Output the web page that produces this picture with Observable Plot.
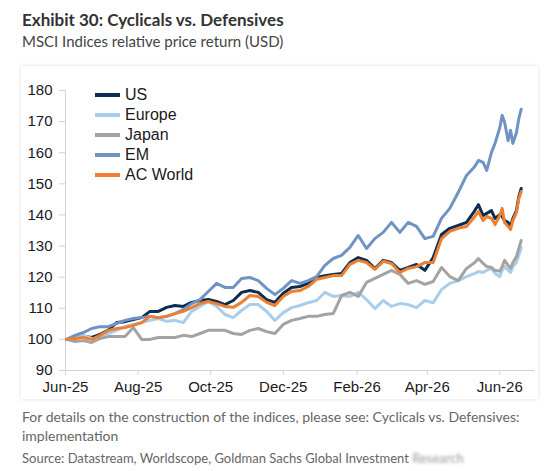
<!DOCTYPE html>
<html>
<head>
<meta charset="utf-8">
<script src="https://cdn.jsdelivr.net/npm/d3@7"></script>
<script src="https://cdn.jsdelivr.net/npm/@observablehq/plot@0.6"></script>
<style>
  html, body { margin: 0; padding: 0; background: #fff; }
  body { width: 545px; height: 471px; position: relative; overflow: hidden; font-family: Lato, "Open Sans", sans-serif; }
  .title { position: absolute; left: 22px; top: 9px; font-size: 17px; font-weight: 700; color: #333; white-space: nowrap; }
  .subtitle { position: absolute; left: 22px; top: 32px; font-size: 15px; color: #444; white-space: nowrap; }
  .card { position: absolute; left: 21px; top: 66px; width: 517px; height: 333px; background: #fff;
          box-shadow: 0 0 4px rgba(0,0,0,0.14); }
  .card svg { position: absolute; left: 0; top: 0; }
  .legend { position: absolute; left: 74px; top: 19px; font-family: Arial, "Liberation Sans", sans-serif; font-size: 16px; color: #1a1a1a; }
  .legend .row { display: flex; align-items: center; height: 20px; }
  .legend .sw { width: 25px; height: 4px; margin-right: 5px; }
  .note { position: absolute; left: 22px; top: 407px; width: 520px; font-size: 14px; line-height: 19px; color: #666; }
  .source { position: absolute; left: 22px; top: 450px; font-size: 13px; color: #666; white-space: nowrap; }
  .source .fade { filter: blur(1.6px); color: #999; }
</style>
</head>
<body>
<div class="title">Exhibit 30: Cyclicals vs. Defensives</div>
<div class="subtitle">MSCI Indices relative price return (USD)</div>
<div class="card" id="card"></div>
<div class="note">For details on the construction of the indices, please see: Cyclicals vs. Defensives: implementation</div>
<div class="source">Source: Datastream, Worldscope, Goldman Sachs Global Investment <span class="fade">Research</span></div>
<script>
// Observation dates (weekly, then denser through June 2026)
const dates = [
  "2025-06-02","2025-06-09","2025-06-16","2025-06-23","2025-06-30","2025-07-07","2025-07-14","2025-07-21",
  "2025-07-28","2025-08-04","2025-08-11","2025-08-18","2025-08-25","2025-09-01","2025-09-08","2025-09-15",
  "2025-09-22","2025-09-29","2025-10-06","2025-10-13","2025-10-20","2025-10-27","2025-11-03","2025-11-10",
  "2025-11-17","2025-11-24","2025-12-01","2025-12-08","2025-12-15","2025-12-22","2025-12-29","2026-01-05",
  "2026-01-12","2026-01-19","2026-01-26","2026-02-02","2026-02-09","2026-02-16","2026-02-23","2026-03-02",
  "2026-03-09","2026-03-16","2026-03-23","2026-03-30","2026-04-06","2026-04-13","2026-04-20","2026-04-27",
  "2026-05-04","2026-05-11","2026-05-14","2026-05-18","2026-05-21","2026-05-25","2026-05-28","2026-06-01",
  "2026-06-03","2026-06-05","2026-06-08","2026-06-10","2026-06-12","2026-06-15","2026-06-17","2026-06-19"
];

// Cyclicals vs. defensives relative price index (start = 100)
const us = [
  100.0,100.5,101.0,100.6,101.6,103.0,105.4,105.7,106.4,107.0,109.0,109.0,110.3,110.9,110.6,111.9,
  112.5,112.8,112.2,111.2,112.5,115.1,115.7,115.1,112.8,111.9,114.8,116.7,117.0,118.0,119.9,120.5,
  120.9,121.2,124.7,126.3,125.4,122.8,125.4,124.7,122.2,123.1,124.1,122.2,126.3,133.7,135.7,136.6,
  137.6,141.4,143.3,139.8,140.5,141.4,138.9,140.1,139.5,138.2,137.6,136.3,138.9,141.4,145.9,148.5
];
const europe = [
  100.0,100.6,101.3,100.3,100.3,101.9,102.9,104.1,104.8,105.4,106.1,106.7,105.8,106.1,105.4,109.0,
  110.6,112.2,110.6,108.0,107.0,109.3,111.2,111.2,109.0,106.1,108.6,110.2,110.9,111.8,112.5,115.1,
  113.8,114.1,113.8,115.1,112.8,109.9,112.5,110.6,111.5,111.2,110.2,112.5,111.8,116.0,118.0,118.9,
  120.2,121.2,121.8,121.5,122.2,122.8,121.2,120.2,122.2,123.4,122.2,121.5,123.4,124.7,127.0,129.5
];
const japan = [
  100.0,99.3,99.6,99.0,100.3,100.9,100.9,100.9,103.8,100.0,100.0,100.6,100.6,100.6,101.3,100.9,
  101.9,102.9,102.9,102.9,101.9,101.6,102.9,103.5,102.5,101.9,104.8,106.1,106.7,107.4,107.4,108.0,
  108.3,114.1,115.1,113.8,118.3,119.6,120.9,122.2,120.9,118.0,118.9,117.7,118.6,123.1,120.2,118.9,
  122.8,124.7,126.0,124.4,123.4,123.1,122.2,121.9,123.4,125.4,123.8,122.8,124.7,126.6,129.2,131.8
];
const em = [
  100.0,101.3,102.2,103.5,104.1,104.1,105.1,106.1,106.7,107.0,107.4,107.0,107.4,108.3,109.6,111.5,
  112.8,115.4,118.0,116.7,116.7,119.6,119.9,118.9,116.4,114.4,116.4,118.9,118.0,118.9,120.2,123.8,
  126.0,127.0,129.6,133.4,129.2,132.4,134.4,137.6,134.4,137.6,136.3,132.4,133.1,138.9,142.1,147.2,
  152.7,155.6,157.5,156.9,154.3,160.1,163.0,168.1,172.0,169.8,163.9,167.2,163.0,166.5,171.0,174.0
];
const acWorld = [
  100.0,100.3,100.6,100.0,101.3,102.9,103.5,103.8,104.5,105.4,107.4,107.0,107.4,108.3,109.0,110.2,
  111.5,112.2,111.5,110.6,110.3,111.9,114.1,113.8,111.9,110.9,113.8,115.4,115.7,117.0,119.3,119.9,
  120.5,120.5,124.1,125.4,124.7,122.5,125.1,124.4,121.5,122.8,123.4,124.7,124.7,132.4,134.7,135.7,
  136.3,139.5,141.1,138.2,139.5,138.9,136.9,139.8,142.1,137.6,136.3,135.3,138.2,140.8,145.3,147.5
];

const seriesNames = ["US", "Europe", "Japan", "EM", "AC World"];
const seriesColors = ["#0d2c4f", "#a9cdea", "#a3a3a3", "#6f93c3", "#ec7f31"];
const seriesValues = [us, europe, japan, em, acWorld];

const yTicks = [90, 100, 110, 120, 130, 140, 150, 160, 170, 180];
const tickDates = ["2025-06-01","2025-08-01","2025-10-01","2025-12-01","2026-02-01","2026-04-01","2026-06-01"];
const xDomain = ["2025-06-01", "2026-07-01"];

const rows = seriesNames.flatMap((name, i) =>
  dates.map((d, j) => ({date: new Date(d), value: seriesValues[i][j], series: name}))
);

const axisGrey = "#d3d3d3";
const chart = Plot.plot({
  width: 517,
  height: 333,
  marginLeft: 44,
  marginRight: 3,
  marginTop: 24,
  marginBottom: 29,
  style: {fontFamily: "Arial, 'Liberation Sans', sans-serif", fontSize: "15px", color: "#1a1a1a", background: "transparent"},
  x: {type: "utc", domain: xDomain.map(d => new Date(d))},
  y: {domain: [yTicks[0], yTicks[yTicks.length - 1]]},
  color: {domain: seriesNames, range: seriesColors},
  marks: [
    Plot.ruleY([yTicks[0]], {stroke: axisGrey}),
    Plot.ruleX([new Date(xDomain[0])], {stroke: axisGrey}),
    Plot.axisY({ticks: yTicks, tickSize: 6, tickPadding: 7, stroke: axisGrey, fill: "#1a1a1a", label: null}),
    Plot.axisX({ticks: tickDates.map(d => new Date(d)), tickFormat: d3.utcFormat("%b-%y"),
                tickSize: 5, tickPadding: 6, stroke: axisGrey, fill: "#1a1a1a", label: null}),
    Plot.line(rows, {x: "date", y: "value", z: "series", stroke: "series", strokeWidth: 3,
                     strokeLinejoin: "round", strokeLinecap: "round"})
  ]
});

const card = document.getElementById("card");
card.appendChild(chart);

// Legend, top-left inside the plot area
const legend = document.createElement("div");
legend.className = "legend";
seriesNames.forEach((name, i) => {
  const row = document.createElement("div");
  row.className = "row";
  const sw = document.createElement("span");
  sw.className = "sw";
  sw.style.background = seriesColors[i];
  const label = document.createElement("span");
  label.textContent = name;
  row.append(sw, label);
  legend.appendChild(row);
});
card.appendChild(legend);
</script>
</body>
</html>
